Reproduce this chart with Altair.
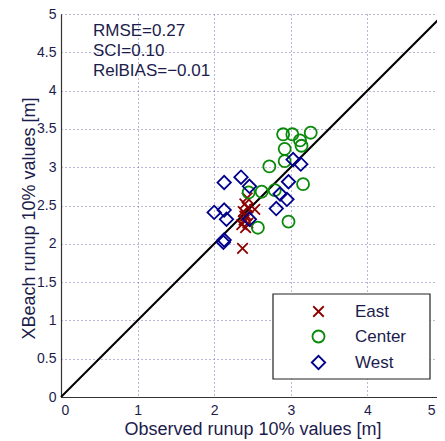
import altair as alt
import pandas as pd

# ---- data ----
east_x = [2.37, 2.43, 2.53, 2.40, 2.44, 2.38, 2.42, 2.39, 2.36, 2.41, 2.44, 2.40]
east_y = [1.94, 2.60, 2.45, 2.52, 2.47, 2.42, 2.37, 2.31, 2.25, 2.21, 2.27, 2.36]

center_x = [2.90, 3.02, 3.26, 3.12, 3.14, 2.92, 2.92, 2.72, 3.16, 2.45, 2.62, 2.79, 2.57, 2.97]
center_y = [3.43, 3.43, 3.45, 3.35, 3.28, 3.24, 3.08, 3.01, 2.78, 2.67, 2.68, 2.70, 2.21, 2.29]

west_x = [2.13, 2.35, 2.46, 2.00, 2.13, 2.16, 2.13, 2.12, 2.46, 2.81, 2.86, 2.95, 2.97, 3.03, 3.13]
west_y = [2.80, 2.87, 2.75, 2.41, 2.44, 2.32, 2.05, 2.02, 2.32, 2.46, 2.65, 2.58, 2.81, 3.10, 3.04]

groups = ["East", "Center", "West"]
line_x = [0, 5]
line_y = [0, 5]
stats = ["RMSE=0.27", "SCI=0.10", "RelBIAS=\u22120.01"]
x_ticks = [0, 1, 2, 3, 4, 5]
y_ticks = [0, 0.5, 1, 1.5, 2, 2.5, 3, 3.5, 4, 4.5, 5]

rows = []
for g, xs, ys in [("East", east_x, east_y), ("Center", center_x, center_y), ("West", west_x, west_y)]:
    for a, b in zip(xs, ys):
        rows.append({"obs": a, "model": b, "group": g})
pts = pd.DataFrame(rows)
line_df = pd.DataFrame({"obs": line_x, "model": line_y})

TXT = "#1c1c4c"
FONT = "Liberation Sans"
XPATH = "M-1,-1L1,1M-1,1L1,-1"

xscale = alt.Scale(domain=[0, 5], nice=False)
yscale = alt.Scale(domain=[0, 5], nice=False)

xaxis = alt.Axis(values=x_ticks, format="d", title="Observed runup 10% values [m]",
                 titleY=37, titleBaseline="alphabetic", labelPadding=6,
                 labelOffset=alt.condition("datum.value == 5", alt.value(-9), alt.value(0)))
yaxis = alt.Axis(values=y_ticks, format=".1~f", title="XBeach runup 10% values [m]",
                 titleX=-27, titleY=204, titleBaseline="alphabetic", labelPadding=5)

X = alt.X("obs:Q", scale=xscale, axis=xaxis)
Y = alt.Y("model:Q", scale=yscale, axis=yaxis)

line = alt.Chart(line_df).mark_line(color="black", strokeWidth=2).encode(x=X, y=Y)

points = alt.Chart(pts).mark_point(filled=False, strokeWidth=1.8, opacity=1).encode(
    x=X, y=Y,
    color=alt.Color("group:N", scale=alt.Scale(domain=groups, range=["#8c0000", "#0a8a0a", "#00008c"]),
                    legend=alt.Legend(title=None, orient="none", legendX=212, legendY=280)),
    shape=alt.Shape("group:N", scale=alt.Scale(domain=groups, range=[XPATH, "circle", "diamond"])),
    size=alt.Size("group:N", scale=alt.Scale(domain=groups, range=[110, 180, 90])),
    order=alt.Order("idx:Q"),
).transform_calculate(idx="datum.group == 'East' ? 0 : (datum.group == 'Center' ? 1 : 2)")

# legend frame (decoration behind the legend entries)
frame = alt.Chart(alt.Data(values=[{}])).mark_rect(
    fill="white", stroke="#222222", strokeWidth=1.2
).encode(x=alt.value(212), x2=alt.value(369), y=alt.value(280), y2=alt.value(365))

text = alt.Chart(alt.Data(values=[{}])).mark_text(
    align="left", baseline="middle", fontSize=17, font=FONT, color=TXT, lineHeight=20
).encode(x=alt.value(32), y=alt.value(17), text=alt.value(stats))

chart = alt.layer(line, points, frame, text).properties(
    width=383, height=383,
    autosize=alt.AutoSizeParams(type="none"),
    padding={"left": 53, "top": 6, "right": -7, "bottom": 44},
).configure_view(stroke=None).configure_axis(
    domainColor="#333333", domainWidth=1.2,
    grid=True, gridColor="#7070b0", gridDash=[1, 3], gridWidth=1, gridOpacity=1,
    ticks=False, labelOverlap=False,
    labelFont=FONT, labelFontSize=14, labelColor=TXT,
    titleFont=FONT, titleFontSize=18, titleFontWeight="normal", titleColor=TXT,
).configure_legend(
    strokeColor="transparent", fillColor="transparent",
    padding=9, symbolOffset=28, labelOffset=28, rowPadding=5,
    labelFont=FONT, labelFontSize=17, labelColor=TXT,
    symbolStrokeWidth=1.8, symbolType="circle",
)

chart.save("out.html", embed_options={"renderer": "svg", "actions": False})
